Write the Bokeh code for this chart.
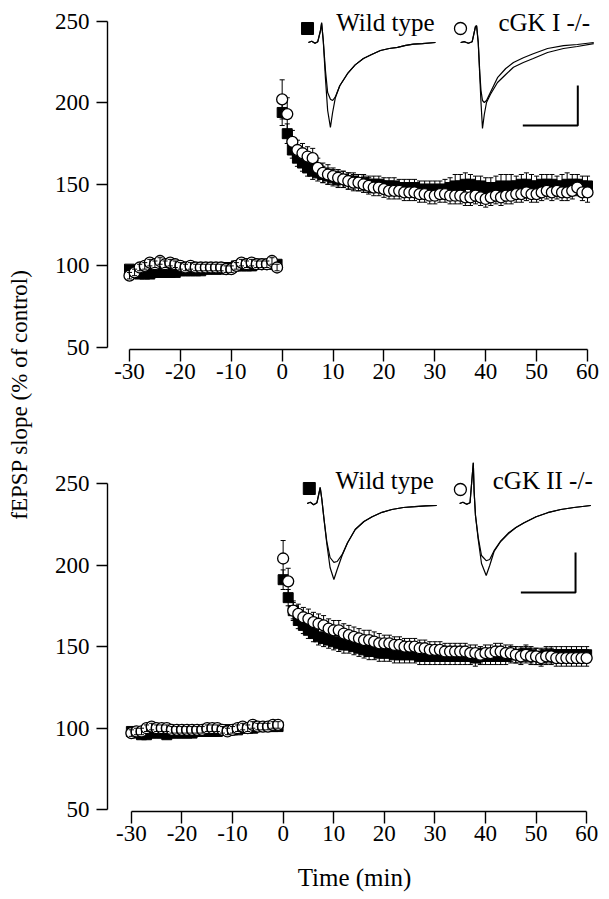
import numpy as np
from bokeh.plotting import figure
from bokeh.models import Range1d, FixedTicker, Label
from bokeh.layouts import row, column
from bokeh.embed import file_html
from bokeh.resources import INLINE

FONT = "Liberation Serif"

# ---------------- data ----------------
base_t = [-30, -29, -28, -27, -26, -25, -24, -23, -22, -21,
          -20, -19, -18, -17, -16, -15, -14, -13, -12, -11,
          -10, -9, -8, -7, -6, -5, -4, -3, -2, -1]
post_t = [0, 1, 2, 3, 4, 5, 6, 7, 8, 9,
          10, 11, 12, 13, 14, 15, 16, 17, 18, 19,
          20, 21, 22, 23, 24, 25, 26, 27, 28, 29,
          30, 31, 32, 33, 34, 35, 36, 37, 38, 39,
          40, 41, 42, 43, 44, 45, 46, 47, 48, 49,
          50, 51, 52, 53, 54, 55, 56, 57, 58, 59, 60]

# Panel A: wild type (squares) vs cGK I -/- (circles)
a_wt_base = [98, 97, 95, 95, 95, 96, 96, 96, 96, 96,
             97, 97, 97, 97, 97, 98, 98, 98, 98, 99,
             99, 100, 100, 100, 100, 101, 101, 101, 101, 101]
a_ko_base = [94, 96, 99, 100, 102, 101, 103, 101, 102, 101,
             100, 99, 100, 99, 99, 99, 99, 99, 99, 98,
             98, 100, 102, 101, 102, 101, 101, 101, 103, 99]
a_wt_post = [194, 181, 171, 166, 163, 160, 158, 157, 156, 155,
             154, 153, 153, 152, 152, 151, 151, 150, 150, 150,
             149, 149, 149, 148, 148, 148, 148, 147, 147, 147,
             147, 147, 147, 148, 149, 149, 150, 150, 149, 149,
             148, 148, 148, 149, 148, 149, 149, 150, 150, 149,
             149, 150, 150, 150, 149, 149, 150, 150, 150, 149,
             149]
a_ko_post = [202, 193, 176, 171, 169, 167, 166, 160, 157, 156,
             155, 154, 153, 152, 151, 151, 150, 149, 148, 148,
             147, 146, 146, 146, 145, 145, 145, 144, 144, 143,
             143, 144, 144, 143, 143, 143, 142, 142, 143, 142,
             141, 142, 143, 142, 143, 143, 144, 144, 145, 144,
             144, 145, 146, 145, 146, 145, 145, 146, 148, 145,
             145]
a_wt_base_sem = [2, 2, 2, 2, 2, 2, 2, 2, 2, 2,
                 2, 2, 2, 2, 2, 2, 2, 2, 2, 2,
                 2, 2, 2, 2, 2, 2, 2, 2, 2, 2]
a_ko_base_sem = [2, 2, 2, 2, 2, 2, 2, 2, 2, 2,
                 2, 2, 2, 2, 2, 2, 2, 2, 2, 2,
                 2, 2, 2, 2, 2, 2, 2, 2, 2, 2]
a_wt_post_sem = [8, 6, 5, 5, 5, 5, 5, 5, 5, 5,
                 5, 5, 5, 5, 5, 5, 5, 5, 5, 5,
                 5, 5, 5, 5, 5, 5, 5, 5, 5, 5,
                 5, 5, 6, 6, 7, 7, 7, 6, 6, 6,
                 6, 6, 7, 7, 8, 7, 6, 6, 7, 7,
                 6, 6, 6, 6, 6, 7, 7, 6, 6, 6,
                 6]
a_ko_post_sem = [12, 10, 7, 6, 6, 6, 6, 6, 6, 6,
                 5, 5, 5, 5, 5, 5, 5, 5, 5, 5,
                 5, 5, 5, 5, 5, 5, 5, 5, 5, 5,
                 5, 5, 5, 5, 5, 5, 5, 5, 5, 5,
                 5, 5, 5, 5, 5, 5, 5, 5, 5, 5,
                 5, 5, 5, 5, 5, 5, 5, 5, 5, 5,
                 6]

# Panel B: wild type (squares) vs cGK II -/- (circles)
b_wt_base = [98, 97, 96, 96, 97, 97, 97, 96, 97, 97,
             97, 97, 97, 98, 98, 98, 98, 98, 99, 99,
             99, 99, 100, 100, 100, 101, 101, 101, 101, 101]
b_ko_base = [97, 98, 98, 100, 101, 100, 100, 100, 99, 99,
             99, 99, 99, 99, 99, 100, 100, 100, 99, 98,
             99, 100, 101, 100, 102, 101, 101, 101, 102, 102]
b_wt_post = [191, 180, 172, 166, 163, 160, 158, 156, 155, 154,
             153, 152, 151, 151, 150, 149, 148, 147, 147, 146,
             146, 146, 145, 145, 145, 145, 145, 144, 144, 144,
             144, 144, 144, 144, 144, 144, 144, 144, 143, 144,
             144, 144, 144, 144, 144, 145, 145, 145, 146, 145,
             144, 144, 145, 145, 145, 145, 145, 145, 145, 145,
             145]
b_ko_post = [204, 190, 172, 170, 168, 167, 165, 164, 163, 161,
             160, 160, 158, 157, 156, 155, 154, 154, 153, 152,
             152, 152, 151, 151, 150, 150, 150, 149, 149, 148,
             148, 148, 147, 147, 147, 147, 147, 146, 146, 145,
             146, 146, 147, 147, 146, 146, 145, 144, 145, 144,
             144, 143, 144, 144, 143, 143, 143, 143, 143, 143,
             143]
b_wt_base_sem = [2, 2, 2, 2, 2, 2, 2, 2, 2, 2,
                 2, 2, 2, 2, 2, 2, 2, 2, 2, 2,
                 2, 2, 2, 2, 2, 2, 2, 2, 2, 2]
b_ko_base_sem = [2, 2, 2, 2, 2, 2, 2, 2, 2, 2,
                 2, 2, 2, 2, 2, 2, 2, 2, 2, 2,
                 2, 2, 2, 2, 2, 2, 2, 2, 2, 2]
b_wt_post_sem = [6, 5, 5, 5, 5, 5, 5, 5, 5, 5,
                 5, 5, 5, 5, 5, 5, 5, 5, 5, 5,
                 5, 5, 5, 5, 5, 5, 5, 5, 5, 5,
                 5, 5, 5, 5, 5, 5, 5, 5, 5, 5,
                 5, 5, 5, 5, 5, 5, 5, 5, 5, 5,
                 5, 5, 5, 5, 5, 5, 5, 5, 5, 5,
                 5]
b_ko_post_sem = [11, 8, 6, 6, 6, 6, 6, 6, 6, 6,
                 6, 6, 6, 6, 6, 6, 6, 6, 6, 6,
                 5, 5, 5, 5, 5, 5, 5, 5, 5, 5,
                 5, 5, 5, 5, 5, 5, 5, 5, 5, 5,
                 5, 5, 5, 5, 5, 5, 5, 5, 5, 5,
                 5, 5, 5, 5, 5, 5, 5, 5, 5, 5,
                 5]

# Example fEPSP traces (ms after stimulus, mV): before (base) and after (post) tetanus
a_wt_trace_t = [-2.2, -1.6, -1.0, -0.5, 0.0, 0.2, 0.5, 0.9, 1.3, 1.8, 2.2, 2.7,
                3.5, 4.9, 6.3, 7.8, 9.3, 10.9, 12.5, 14.0, 15.5, 16.9, 18.5, 20.9]
a_wt_trace_post = [0.0, 0.03, -0.02, 0.02, 0.3, 0.5, 0.05, -0.9, -1.7, -2.12, -1.75, -1.38,
                   -1.08, -0.78, -0.56, -0.4, -0.3, -0.2, -0.15, -0.12, -0.07, -0.04, -0.03, 0.0]
a_wt_trace_base = [0.0, 0.03, -0.02, 0.02, 0.3, 0.48, 0.05, -0.7, -1.25, -1.42, -1.45, -1.36,
                   -1.08, -0.78, -0.56, -0.4, -0.3, -0.2, -0.15, -0.12, -0.07, -0.04, -0.03, 0.0]

a_ko_trace_t = [-2.7, -2.0, -1.3, -0.6, 0.0, 0.2, 0.5, 0.8, 1.0, 1.27, 1.6, 2.0,
                2.7, 4.0, 5.5, 6.9, 8.7, 10.5, 13.1, 16.0, 18.5, 21.5]
a_ko_trace_post = [0.0, 0.02, -0.02, 0.02, 0.4, 0.42, 0.0, -0.9, -1.5, -2.15, -1.8, -1.5,
                   -1.3, -1.0, -0.8, -0.62, -0.5, -0.4, -0.25, -0.15, -0.1, -0.03]
a_ko_trace_base = [0.0, 0.02, -0.02, 0.02, 0.4, 0.42, 0.0, -0.8, -1.2, -1.45, -1.5, -1.45,
                   -1.25, -0.88, -0.65, -0.5, -0.38, -0.28, -0.15, -0.08, -0.05, 0.0]

b_wt_trace_t = [-2.4, -1.8, -1.2, -0.6, 0.0, 0.3, 0.7, 1.2, 1.8, 2.5, 3.1, 4.0,
                5.0, 6.4, 8.0, 9.5, 11.3, 13.1, 15.2, 17.3, 19.3, 21.3]
b_wt_trace_post = [0.0, 0.03, -0.03, 0.02, 0.4, 0.1, -0.4, -1.0, -1.6, -1.9, -1.65, -1.3,
                   -0.98, -0.65, -0.45, -0.33, -0.22, -0.15, -0.1, -0.08, -0.06, -0.05]
b_wt_trace_base = [0.0, 0.03, -0.03, 0.02, 0.4, 0.1, -0.4, -0.95, -1.35, -1.47, -1.45, -1.28,
                   -0.98, -0.65, -0.45, -0.33, -0.22, -0.15, -0.1, -0.08, -0.06, -0.05]

b_ko_trace_t = [-2.5, -1.9, -1.2, -0.6, 0.0, 0.15, 0.4, 0.9, 1.5, 2.36, 3.0, 3.8,
                5.0, 6.4, 7.8, 9.3, 11.5, 13.6, 16.0, 18.4, 21.5]
b_ko_trace_post = [0.0, 0.03, -0.02, 0.02, 1.02, 0.3, -0.3, -0.9, -1.5, -1.8, -1.55, -1.2,
                   -0.95, -0.76, -0.6, -0.48, -0.33, -0.23, -0.15, -0.1, -0.05]
b_ko_trace_base = [0.0, 0.03, -0.02, 0.02, 1.02, 0.3, -0.3, -0.85, -1.3, -1.43, -1.4, -1.18,
                   -0.94, -0.74, -0.6, -0.48, -0.33, -0.23, -0.15, -0.1, -0.05]

scale_ms = 10   # horizontal scale bar
scale_mv = 1    # vertical scale bar

x_ticks = [-30, -20, -10, 0, 10, 20, 30, 40, 50, 60]
x_tick_labels = ["-30", "-20", "-10", "0", "10", "20", "30", "40", "50", "60"]
y_ticks = [50, 100, 150, 200, 250]
y_tick_labels = ["50", "100", "150", "200", "250"]

wt_label = "Wild type"
a_ko_label = "cGK I -/-"
b_ko_label = "cGK II -/-"
x_label = "Time (min)"
y_label = "fEPSP slope (% of control)"


def add_series(p, t, v, sem, kind, bars_on_top=False):
    t = np.asarray(t, float)
    v = np.asarray(v, float)
    s = np.asarray(sem, float)
    cap = 0.5

    def bars():
        p.segment(t, v - s, t, v + s, line_color="black", line_width=1)
        p.segment(t - cap, v + s, t + cap, v + s, line_color="black", line_width=1)
        p.segment(t - cap, v - s, t + cap, v - s, line_color="black", line_width=1)

    if not bars_on_top:
        bars()
    if kind == "sq":
        p.scatter(t, v, marker="square", size=10, fill_color="black",
                  line_color="black", line_width=1)
    else:
        p.scatter(t, v, marker="circle", size=11, fill_color="white",
                  line_color="black", line_width=1.3)
    if bars_on_top:
        bars()


def make_panel(height, mtop, mbot, mleft, xr, yr, wt_xr, ko_xr, tr_yr,
               wt_b, wt_bs, wt_p, wt_ps, ko_b, ko_bs, ko_p, ko_ps,
               wtt, wt_base_tr, wt_post_tr, kot, ko_base_tr, ko_post_tr,
               ko_label, anchors, xlabel):
    p = figure(width=571, height=height, x_range=Range1d(*xr), y_range=Range1d(*yr),
               output_backend="svg", toolbar_location=None,
               min_border_left=mleft, min_border_right=8,
               min_border_top=mtop, min_border_bottom=mbot)
    p.extra_x_ranges = {"wt": Range1d(*wt_xr), "ko": Range1d(*ko_xr)}
    p.extra_y_ranges = {"tr": Range1d(*tr_yr)}
    p.outline_line_color = None
    p.grid.visible = False
    p.background_fill_color = "white"
    p.border_fill_color = "white"

    xa = p.xaxis[0]
    xa.bounds = (x_ticks[0], x_ticks[-1])
    xa.ticker = FixedTicker(ticks=x_ticks)
    xa.major_label_overrides = dict(zip(x_ticks, x_tick_labels))
    xa.minor_tick_line_color = None
    xa.major_tick_out = 12
    xa.major_tick_in = 0
    xa.major_label_standoff = 2
    xa.axis_line_width = 1.4
    xa.major_tick_line_width = 1.4
    xa.axis_line_color = "black"
    xa.major_tick_line_color = "black"
    xa.major_label_text_font = FONT
    xa.major_label_text_font_size = "23px"
    xa.major_label_text_color = "black"
    if xlabel:
        xa.axis_label = xlabel
        xa.axis_label_text_font = FONT
        xa.axis_label_text_font_size = "25px"
        xa.axis_label_text_font_style = "normal"
        xa.axis_label_text_color = "black"
        xa.axis_label_standoff = 20

    ya = p.yaxis[0]
    ya.bounds = (y_ticks[0], y_ticks[-1])
    ya.ticker = FixedTicker(ticks=y_ticks)
    ya.major_label_overrides = dict(zip(y_ticks, y_tick_labels))
    ya.minor_tick_line_color = None
    ya.major_tick_out = 11
    ya.major_tick_in = 0
    ya.major_label_standoff = 7
    ya.axis_line_width = 1.4
    ya.major_tick_line_width = 1.4
    ya.axis_line_color = "black"
    ya.major_tick_line_color = "black"
    ya.major_label_text_font = FONT
    ya.major_label_text_font_size = "23px"
    ya.major_label_text_color = "black"

    # data series
    add_series(p, base_t, wt_b, wt_bs, "sq")
    add_series(p, post_t, wt_p, wt_ps, "sq")
    add_series(p, base_t, ko_b, ko_bs, "ci", bars_on_top=True)
    add_series(p, post_t, ko_p, ko_ps, "ci")

    # example traces
    for tr in (wt_base_tr, wt_post_tr):
        p.line(wtt, tr, x_range_name="wt", y_range_name="tr", line_color="black", line_width=1.2)
    for tr in (ko_base_tr, ko_post_tr):
        p.line(kot, tr, x_range_name="ko", y_range_name="tr", line_color="black", line_width=1.2)

    (sq_xy, ci_xy, wt_txt, ko_txt, bar0) = anchors
    p.scatter([sq_xy[0]], [sq_xy[1]], x_range_name="wt", y_range_name="tr",
              marker="square", size=12, fill_color="black", line_color="black")
    p.scatter([ci_xy[0]], [ci_xy[1]], x_range_name="ko", y_range_name="tr",
              marker="circle", size=12, fill_color="white", line_color="black", line_width=1.3)
    p.add_layout(Label(x=wt_txt[0], y=wt_txt[1], x_range_name="wt", y_range_name="tr",
                       text=wt_label, text_font=FONT, text_font_size="25px",
                       text_align="center", text_baseline="alphabetic", text_color="black"))
    p.add_layout(Label(x=ko_txt[0], y=ko_txt[1], x_range_name="ko", y_range_name="tr",
                       text=ko_label, text_font=FONT, text_font_size="25px",
                       text_align="center", text_baseline="alphabetic", text_color="black"))
    bx, by = bar0
    p.line([bx, bx + scale_ms, bx + scale_ms], [by, by, by + scale_mv],
           x_range_name="ko", y_range_name="tr", line_color="black", line_width=2)
    return p


p1 = make_panel(405, 0, 56, 69,
                (-34.32, 62.75), (48.77, 262.6),
                (-38.73, 51.09), (-66.91, 22.91), (-7.675, 1.05),
                a_wt_base, a_wt_base_sem, a_wt_post, a_wt_post_sem,
                a_ko_base, a_ko_base_sem, a_ko_post, a_ko_post_sem,
                a_wt_trace_t, a_wt_trace_base, a_wt_trace_post,
                a_ko_trace_t, a_ko_trace_base, a_ko_trace_post,
                a_ko_label,
                ((-2.36, 0.35), (-2.73, 0.35), (11.8, 0.5), (12.5, 0.5), (8.6, -2.075)),
                None)

p2 = make_panel(494, 50, 88, 66,
                (-34.72, 62.94), (48.96, 267.1),
                (-38.91, 51.45), (-66.91, 23.45), (-7.7, 1.2),
                b_wt_base, b_wt_base_sem, b_wt_post, b_wt_post_sem,
                b_ko_base, b_ko_base_sem, b_ko_post, b_ko_post_sem,
                b_wt_trace_t, b_wt_trace_base, b_wt_trace_post,
                b_ko_trace_t, b_ko_trace_base, b_ko_trace_post,
                b_ko_label,
                ((-2.0, 0.375), (-2.36, 0.35), (11.8, 0.575), (12.7, 0.575), (8.7, -2.225)),
                x_label)

lab = figure(width=38, height=899, x_range=Range1d(0, 38), y_range=Range1d(899, 0),
             output_backend="svg", toolbar_location=None,
             x_axis_type=None, y_axis_type=None,
             min_border_left=0, min_border_right=0, min_border_top=0, min_border_bottom=0)
lab.outline_line_color = None
lab.grid.visible = False
lab.add_layout(Label(x=19, y=394, text=y_label, angle=np.pi / 2,
                     text_font=FONT, text_font_size="23px", text_align="center",
                     text_baseline="middle", text_color="black"))

layout = row(lab, column(p1, p2))

open("out.html", "w").write(file_html(layout, INLINE))
